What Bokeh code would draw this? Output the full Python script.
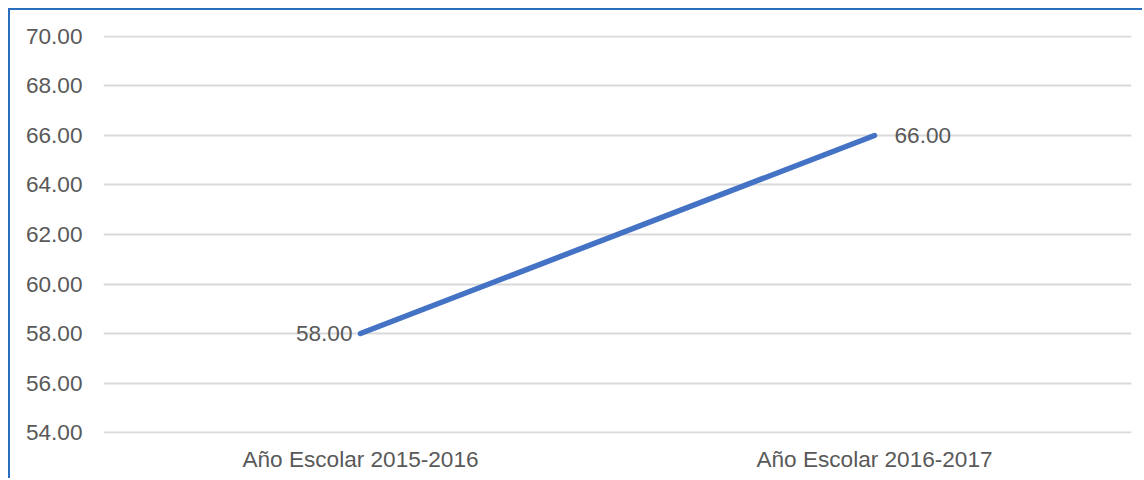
from bokeh.plotting import figure
from bokeh.models import ColumnDataSource, FactorRange, Range1d, FixedTicker, CustomJSTickFormatter, LabelSet
from bokeh.embed import file_html
from bokeh.resources import INLINE
from bokeh.core.properties import value

categories = ["Año Escolar 2015-2016", "Año Escolar 2016-2017"]
values = [58.00, 66.00]
label_texts = ["58.00", "66.00"]
y_ticks = [54, 56, 58, 60, 62, 64, 66, 68, 70]

FONT = "Liberation Sans"
GRAY = "#595959"
FS = "22.6px"

p = figure(width=1134, height=470, output_backend="svg", toolbar_location=None,
           x_range=FactorRange(factors=categories, range_padding=0),
           y_range=Range1d(53.96, 70.04))
p.min_border_left = 93
p.min_border_right = 13
p.min_border_top = 25
p.min_border_bottom = 47
p.outline_line_color = None
p.background_fill_color = "white"
p.border_fill_color = "white"
p.styles = {"margin-left": "8px", "margin-top": "8px",
            "border-left": "2px solid #2A6EC0", "border-top": "2px solid #2A6EC0"}

src = ColumnDataSource(dict(x=categories, y=values, t=label_texts))
p.line("x", "y", source=src, line_color="#4472C4", line_width=5.5, line_cap="round")

# data labels: first to the left, second to the right
left_src = ColumnDataSource(dict(x=categories[:1], y=values[:1], t=label_texts[:1]))
right_src = ColumnDataSource(dict(x=categories[1:], y=values[1:], t=label_texts[1:]))
p.add_layout(LabelSet(x="x", y="y", text="t", source=left_src, x_offset=-8,
                      text_align="right", text_baseline="middle",
                      text_font=value(FONT), text_font_size=FS, text_color=GRAY))
p.add_layout(LabelSet(x="x", y="y", text="t", source=right_src, x_offset=20,
                      text_align="left", text_baseline="middle",
                      text_font=value(FONT), text_font_size=FS, text_color=GRAY))

p.xgrid.grid_line_color = None
p.ygrid.grid_line_color = "#D9D9D9"
p.ygrid.grid_line_width = 2
p.yaxis.ticker = FixedTicker(ticks=y_ticks)
p.yaxis.formatter = CustomJSTickFormatter(code="return tick.toFixed(2);")

for ax in (p.xaxis, p.yaxis):
    ax.axis_line_color = None
    ax.major_tick_line_color = None
    ax.minor_tick_line_color = None
    ax.major_tick_out = 0
    ax.major_tick_in = 0
    ax.major_label_text_font = FONT
    ax.major_label_text_font_size = FS
    ax.major_label_text_color = GRAY

p.yaxis.major_label_standoff = 21
p.xaxis.major_label_standoff = 13

open("out.html", "w").write(file_html(p, INLINE))
